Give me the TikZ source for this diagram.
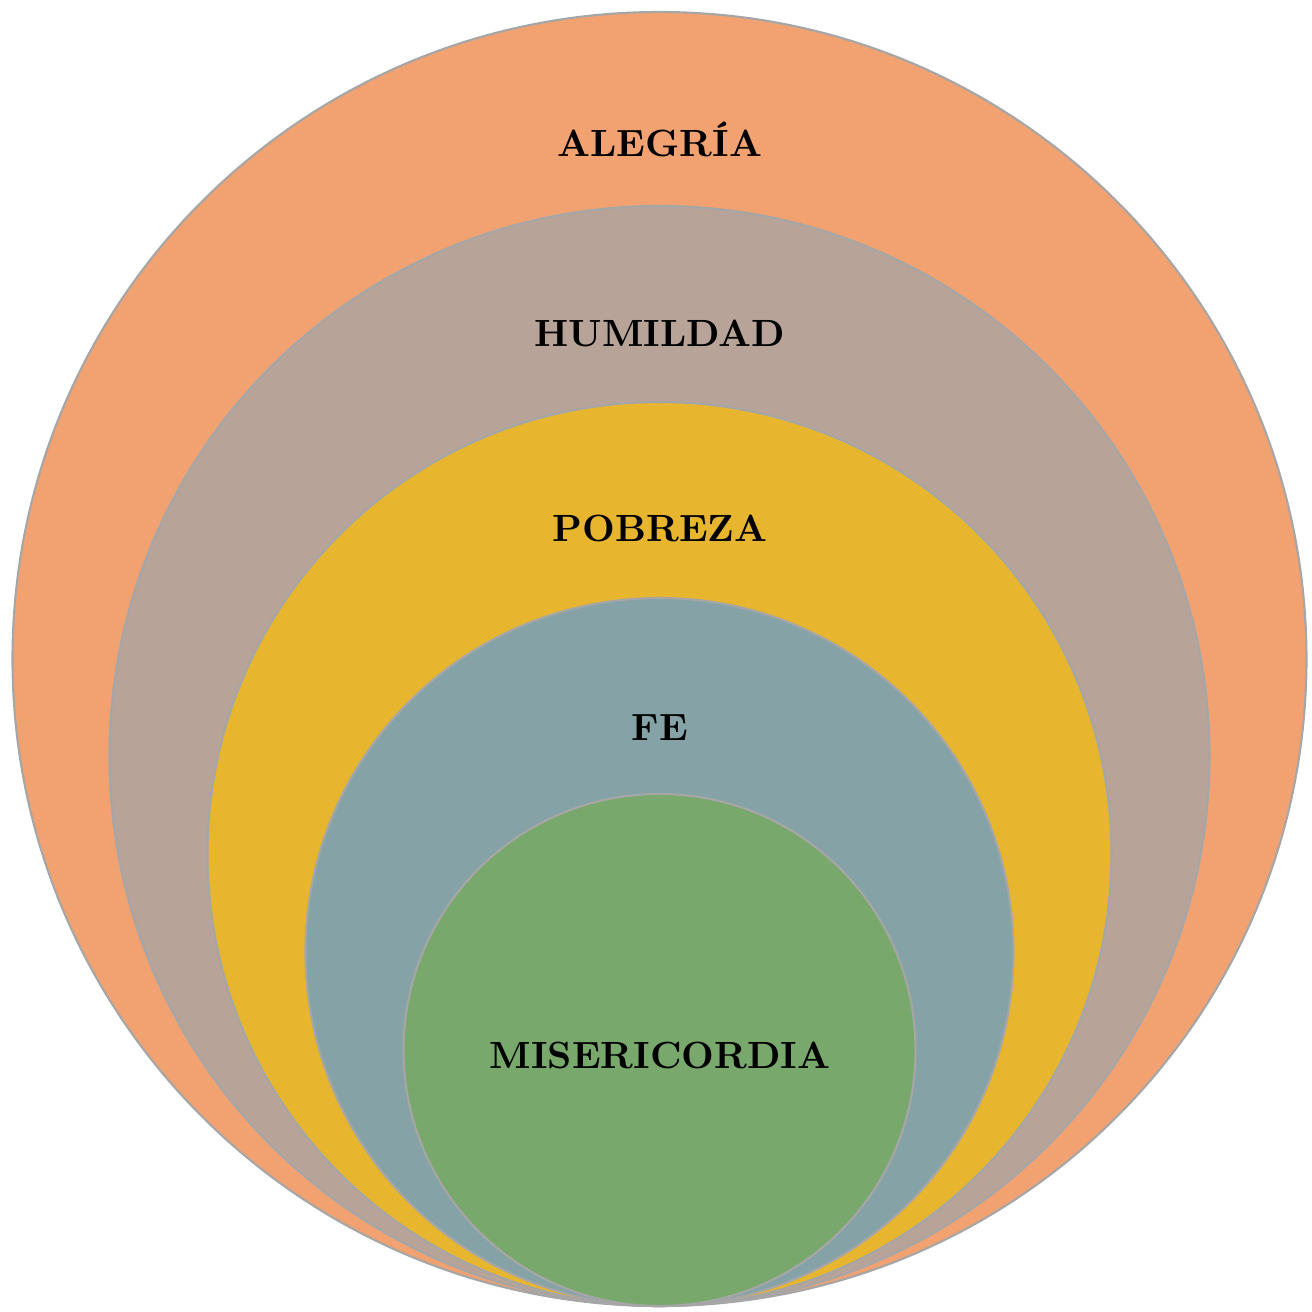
\documentclass[tikz,border=0pt]{standalone}
\usepackage{tikz}
\definecolor{orangeA}{HTML}{F2A271}
\definecolor{taupeH}{HTML}{B8A398}
\definecolor{jauneP}{HTML}{E7B52E}
\definecolor{bleuF}{HTML}{85A3A7}
\definecolor{vertM}{HTML}{78A86C}

\begin{document}
\begin{tikzpicture}
      \tikzstyle{disque}=[circle, draw=black!35, line width=0.6pt, inner sep=0pt]
      \tikzstyle{titre}=[text=black, font=\fontsize{10.8}{13}\selectfont\bfseries]

      \useasboundingbox (0,0) rectangle (13.12,13.12);

      \node[disque, fill=orangeA, minimum size=12.94cm] (Alegria) at (6.595,6.53) {};
      \node[disque, fill=taupeH, minimum size=11.00cm] (Humildad) at (6.595,5.56) {};
      \node[disque, fill=jauneP, minimum size=9.04cm] (Pobreza) at (6.595,4.58) {};
      \node[disque, fill=bleuF, minimum size=7.08cm] (Fe) at (6.595,3.60) {};
      \node[disque, fill=vertM, minimum size=5.12cm] (Misericordia) at (6.595,2.62) {};

      \node[titre] (tAlegria) at (6.6,11.73) {ALEGRÍA};
      \node[titre] (tHumildad) at (6.6,9.79) {HUMILDAD};
      \node[titre] (tPobreza) at (6.6,7.84) {POBREZA};
      \node[titre] (tFe) at (6.6,5.84) {FE};
      \node[titre] (tMisericordia) at (6.6,2.57) {MISERICORDIA};

    \end{tikzpicture}
\end{document}
